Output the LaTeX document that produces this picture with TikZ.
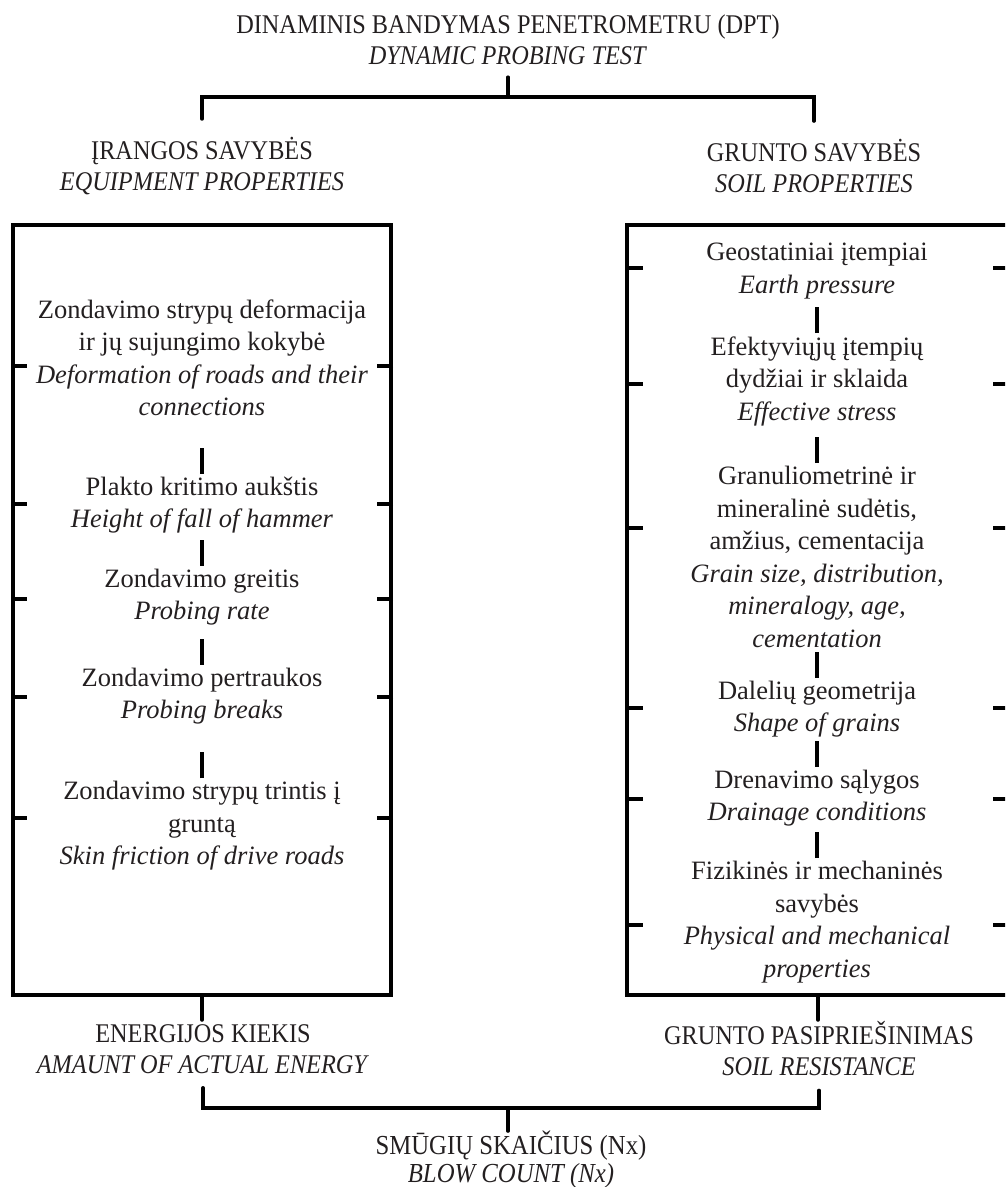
\documentclass[tikz,border=0pt]{standalone}
\usepackage{tikz}
\usepackage{graphicx}
\usepackage{fontspec}
\setmainfont{Liberation Serif}
\usetikzlibrary{calc}

\definecolor{ink}{RGB}{35,31,32}
\newcommand{\narrow}[1]{\scalebox{0.9}[1]{#1}}

\begin{document}
\begin{tikzpicture}[x=1pt,y=-1pt,
  header/.style={align=center,inner sep=0pt,text=ink,font=\fontsize{27}{31}\selectfont},
  entry/.style={align=center,inner sep=0pt,text=ink,font=\fontsize{26.5}{32.5}\selectfont},
  panel/.style={draw,line width=4pt,inner sep=0pt,minimum height=770pt},
  brace/.style={line width=3.5pt,line cap=round},
  tickmark/.style={line width=4pt},
  divider/.style={line width=4pt}]

\clip (0,0) rectangle (1005,1187);

%headings
\node[header] (title) at (508,40) {\narrow{DINAMINIS BANDYMAS PENETROMETRU (DPT)}\\\narrow{\textit{DYNAMIC PROBING TEST}}};
\node[header] (eqp) at (202,166) {\narrow{ĮRANGOS SAVYBĖS}\\\narrow{\textit{EQUIPMENT PROPERTIES}}};
\node[header] (soil) at (814,166) {\narrow{GRUNTO SAVYBĖS}\\\narrow{\textit{SOIL PROPERTIES}}};
\node[header] (eng) at (203,1049) {\narrow{ENERGIJOS KIEKIS}\\\narrow{\textit{AMAUNT OF ACTUAL ENERGY}}};
\node[header] (res) at (819,1049) {\narrow{GRUNTO PASIPRIEŠINIMAS}\\\narrow{\textit{SOIL RESISTANCE}}};
\node[header,font=\fontsize{27.5}{28}\selectfont] (blow) at (511,1160) {\narrow{SMŪGIŲ SKAIČIUS (Nx)}\\\narrow{\textit{BLOW COUNT (Nx)}}};

%boxes
\node[panel,minimum width=378pt] (lbox) at (202,610) {};
\node[panel,minimum width=382pt] (rbox) at (818,610) {};

%equipment
\node[entry] (l1) at (202,358) {Zondavimo strypų deformacija\\ir jų sujungimo kokybė\\\textit{Deformation of roads and their}\\\textit{connections}};
\node[entry] (l2) at (202,505) {Plakto kritimo aukštis\\\textit{Height of fall of hammer}};
\node[entry] (l3) at (202,597) {Zondavimo greitis\\\textit{Probing rate}};
\node[entry] (l4) at (202,696) {Zondavimo pertraukos\\\textit{Probing breaks}};
\node[entry] (l5) at (202,826) {Zondavimo strypų trintis į\\gruntą\\\textit{Skin friction of drive roads}};

%soil
\node[entry] (r1) at (817,271) {Geostatiniai įtempiai\\\textit{Earth pressure}};
\node[entry] (r2) at (817,381) {Efektyviųjų įtempių\\dydžiai ir sklaida\\\textit{Effective stress}};
\node[entry] (r3) at (817,557) {Granuliometrinė ir\\mineralinė sudėtis,\\amžius, cementacija\\\textit{Grain size, distribution,}\\\textit{mineralogy, age,}\\\textit{cementation}};
\node[entry] (r4) at (817,709) {Dalelių geometrija\\\textit{Shape of grains}};
\node[entry] (r5) at (817,798) {Drenavimo sąlygos\\\textit{Drainage conditions}};
\node[entry] (r6) at (817,922) {Fizikinės ir mechaninės\\savybės\\\textit{Physical and mechanical}\\\textit{properties}};

%dividers
\foreach \n in {l2,l3,l4,l5,r2,r3,r4,r5,r6}
  \draw[divider] ([yshift=3pt]\n.north) -- ++(0,-26);

%ticks
\foreach \y in {366,504,599,697,818}{
  \draw[tickmark] (lbox.west |- 0,\y) -- ++(16,0);
  \draw[tickmark] (lbox.east |- 0,\y) -- ++(-16,0);
}
\foreach \y in {268,384,528,708,799,925}{
  \draw[tickmark] (rbox.west |- 0,\y) -- ++(18,0);
  \draw[tickmark] (rbox.east |- 0,\y) -- ++(-18,0);
}

%brackets
\coordinate (tj) at (508,97);
\coordinate (bj) at (508,1108);
\draw[brace] (tj) -- ([yshift=-12pt]title.south);
\draw[brace] ([yshift=18pt]eqp.north) |- (tj) -| ([yshift=18pt]soil.north);
\draw[brace] (lbox.south) -- ++(0,23);
\draw[brace] (rbox.south) -- ++(0,23);
\draw[brace] ([yshift=-14pt]eng.south) |- (bj) -| ([yshift=-14pt]res.south);
\draw[brace] (bj) -- (bj |- blow.north);

\end{tikzpicture}
\end{document}
